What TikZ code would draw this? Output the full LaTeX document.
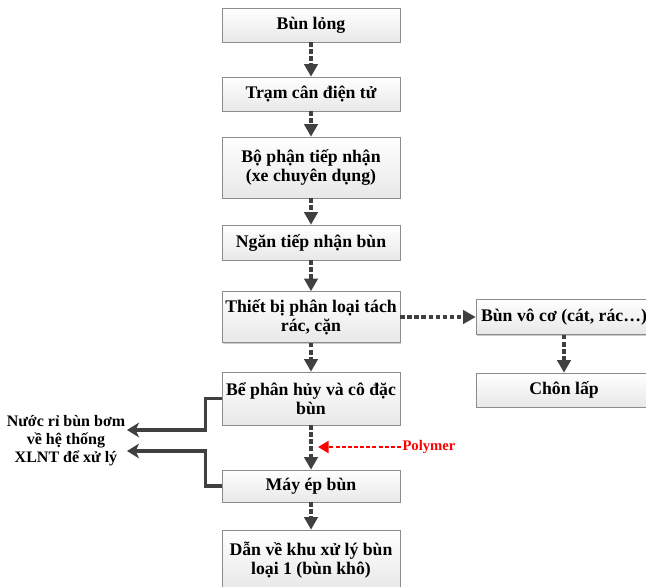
\documentclass[tikz,border=0pt]{standalone}
\usepackage{fontspec}
\setmainfont{Liberation Serif}
\usetikzlibrary{arrows.meta, positioning, shadows}

\definecolor{boxline}{HTML}{8C8C8C}
\definecolor{flowline}{HTML}{404040}

\begin{document}
\begin{tikzpicture}[x=0.75pt, y=-0.75pt, >=Stealth, font=\fontsize{13.3}{14.25}\selectfont\bfseries,
	box/.style={draw=boxline, rectangle, top color=white, bottom color=black!9, align=center, minimum width=133.5pt, inner sep=2pt,
		drop shadow={shadow xshift=0.9pt, shadow yshift=-0.9pt, fill=black, opacity=0.2}},
	flow/.style={draw=flowline, line width=2.6pt, dash pattern=on 3.5pt off 1.8pt, -{Triangle[width=10pt, length=9.5pt]}},
	drain/.style={draw=flowline, line width=2.4pt, -{Stealth[width=11pt, length=9pt, inset=2.5pt]}},
	dose/.style={draw=red, line width=1.8pt, dash pattern=on 3pt off 1.6pt, -{Triangle[width=9pt, length=8pt]}}]
				\useasboundingbox (0, 0) rectangle (646, 586);
				
				\node[box, minimum height=25.5pt] (bl) at (311, 25) {Bùn lỏng};
				\node[box, minimum height=25.5pt] (tc) at (311, 94) {Trạm cân điện tử};
				\node[box, minimum height=45.75pt] (bp) at (311, 167.5) {Bộ phận tiếp nhận\\(xe chuyên dụng)};
				\node[box, minimum height=26.25pt] (nt) at (311, 242.5) {Ngăn tiếp nhận bùn};
				\node[box, minimum height=38.25pt] (tb) at (311, 317) {Thiết bị phân loại tách\\rác, cặn};
				\node[box, minimum height=39.75pt] (be) at (311, 398.5) {Bể phân hủy và cô đặc\\bùn};
				\node[box, minimum height=24pt] (me) at (311, 486) {Máy ép bùn};
				\node[box, minimum height=45pt] (dv) at (311, 560) {Dẫn về khu xử lý bùn\\loại 1 (bùn khô)};
				\node[box, minimum width=132pt, minimum height=26.25pt] (bvc) at (564, 317) {Bùn vô cơ (cát, rác…)};
				\node[box, minimum width=132pt, minimum height=25.5pt] (cl) at (564, 390) {Chôn lấp};
				
				\node[align=center, font=\fontsize{12}{13.5}\selectfont\bfseries] (nr) at (66, 441) {Nước rỉ bùn bơm\\về hệ thống\\XLNT để xử lý};
				\node[text=red, font=\fontsize{11}{12}\selectfont\bfseries, inner sep=1pt] (po) at (429, 447) {Polymer};
				\coordinate (d1) at (127, 430);
				\coordinate (d2) at (127, 451);
				\coordinate (pt) at (318, 447);
				
				\draw[flow] (bl) -- (tc);
				\draw[flow] (tc) -- (bp);
				\draw[flow] (bp) -- (nt);
				\draw[flow] (nt) -- (tb);
				\draw[flow] (tb) -- (be);
				\draw[flow] (be) -- (me);
				\draw[flow] (me) -- (dv);
				\draw[flow] (tb) -- (bvc);
				\draw[flow] (bvc) -- (cl);
				\draw[drain] (be.west) -- ++(-16, 0) |- (d1);
				\draw[drain] (me.west) -- ++(-16, 0) |- (d2);
				\draw[dose] (po.west) -- (pt);
			\end{tikzpicture}
\end{document}
